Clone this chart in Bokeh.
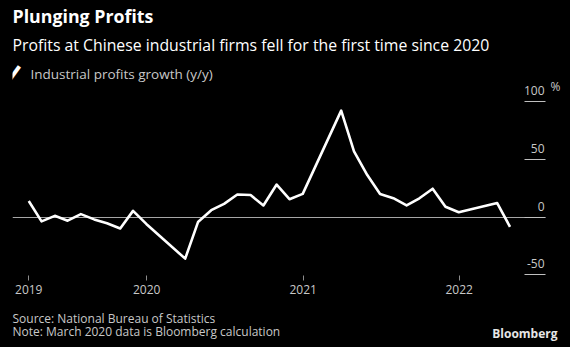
import pandas as pd
from bokeh.plotting import figure
from bokeh.layouts import column
from bokeh.models import (Range1d, FixedTicker, DatetimeTickFormatter, Label, LinearAxis,
                          CustomLabelingPolicy)
from bokeh.embed import file_html
from bokeh.resources import INLINE

# ---- data ----
months = ["2019-03", "2019-04", "2019-05", "2019-06", "2019-07", "2019-08",
          "2019-09", "2019-10", "2019-11", "2019-12",
          "2020-03", "2020-04", "2020-05", "2020-06", "2020-07", "2020-08",
          "2020-09", "2020-10", "2020-11", "2020-12",
          "2021-03", "2021-04", "2021-05", "2021-06", "2021-07", "2021-08",
          "2021-09", "2021-10", "2021-11", "2021-12",
          "2022-03", "2022-04"]
growth = [13.9, -3.7, 1.1, -3.1, 2.6, -2.0, -5.3, -9.9, 5.4, -5.9,
          -36.0, -4.3, 6.0, 11.5, 19.6, 19.1, 10.1, 28.2, 15.5, 20.1,
          92.3, 57.0, 36.4, 20.0, 16.4, 10.1, 16.3, 24.6, 9.0, 4.2,
          12.2, -8.5]
year_ticks = ["2019-03-31", "2020-01-01", "2021-01-01", "2022-01-01"]
y_ticks = [-50, 0, 50, 100]
y_tick_labels = ["-50", "0", "50", "100"]
y_unit = "%"

title_text = "Plunging Profits"
subtitle_text = "Profits at Chinese industrial firms fell for the first time since 2020"
legend_text = "Industrial profits growth (y/y)"
source_text = "Source: National Bureau of Statistics"
note_text = "Note: March 2020 data is Bloomberg calculation"
brand_text = "Bloomberg"

dates = pd.to_datetime(months) + pd.offsets.MonthEnd(0)


def ms(s):
    return pd.Timestamp(s).value / 1e6


x_start, x_end = "2019-02-21", "2022-07-22"
y_lo, y_hi = -50.6, 187.7

W = 570
MAIN_H = 303
FOOT_H = 347 - MAIN_H
FRAME_LEFT, FRAME_BOTTOM = 12, 275
FONT = "Open Sans"
LABEL_GRAY = "#c8c8c8"

p = figure(width=W, height=MAIN_H, x_axis_type="datetime", y_axis_location="right",
           x_range=Range1d(ms(x_start), ms(x_end)), y_range=Range1d(y_lo, y_hi),
           output_backend="svg", toolbar_location=None,
           min_border_left=FRAME_LEFT, min_border_right=25,
           min_border_top=0, min_border_bottom=MAIN_H - FRAME_BOTTOM,
           background_fill_color="black", border_fill_color="black")
p.outline_line_color = None
p.title.visible = False

# x axis
xa = p.xaxis[0]
xa.ticker = FixedTicker(ticks=[ms(t) for t in year_ticks])
xa.formatter = DatetimeTickFormatter(years="%Y", months="%Y", days="%Y", hours="%Y",
                                     hourmin="%Y", minutes="%Y", minsec="%Y",
                                     seconds="%Y", milliseconds="%Y", microseconds="%Y")
xa.axis_line_color = None
xa.major_tick_line_color = "#8c8c8c"
xa.major_tick_out = 5
xa.major_tick_in = 0
xa.minor_tick_line_color = None
xa.major_label_text_color = LABEL_GRAY
xa.major_label_text_font = FONT
xa.major_label_text_font_size = "12px"
xa.major_label_standoff = 4

# y axis (right): only the short inward dashes, its own labels are suppressed
ya = p.yaxis[0]
ya.ticker = FixedTicker(ticks=y_ticks)
ya.axis_line_color = None
ya.major_tick_in = 21
ya.major_tick_out = 0
ya.major_tick_line_color = "#bfbfbf"
ya.minor_tick_line_color = None
ya.major_label_text_font_size = "1px"
ya.major_label_standoff = 0
ya.major_label_policy = CustomLabelingPolicy(code="return new Set()")

# unit "%" beside the top label, via a second right axis on a range lifted by 15 px
lift = 15 / ((FRAME_BOTTOM - 0) / (y_hi - y_lo))
p.extra_y_ranges = {"unit": Range1d(y_lo - lift, y_hi - lift)}
ua = LinearAxis(y_range_name="unit", ticker=FixedTicker(ticks=[y_ticks[-1]]),
                major_label_overrides={y_ticks[-1]: y_unit})
ua.axis_line_color = None
ua.major_tick_in = 0
ua.major_tick_out = 0
ua.minor_tick_line_color = None
ua.major_label_standoff = 0
ua.major_label_text_color = LABEL_GRAY
ua.major_label_text_font = FONT
ua.major_label_text_font_size = "12px"
p.add_layout(ua, "right")

p.xgrid.visible = False
p.ygrid.ticker = FixedTicker(ticks=[0])
p.ygrid.grid_line_color = "#a6a6a6"
p.ygrid.grid_line_width = 1

p.line(x=dates, y=growth, line_color="white", line_width=2.6, line_join="round")

# y tick labels placed above the dashes
for v, lab in zip(y_ticks, y_tick_labels):
    p.add_layout(Label(x=ms(x_end), y=v, text=lab, text_align="right",
                       text_baseline="alphabetic", x_offset=-1, y_offset=11,
                       text_color=LABEL_GRAY, text_font=FONT, text_font_size="12px"))


def frame_label(text, cx, cy, left, bottom, **kw):
    opts = dict(text_baseline="middle", text_align="left", text_font=FONT,
                text_color=LABEL_GRAY, text_font_size="12px")
    opts.update(kw)
    return Label(x=cx - left, y=bottom - cy, x_units="screen", y_units="screen",
                 text=text, **opts)


p.add_layout(frame_label(title_text, 12, 15, FRAME_LEFT, FRAME_BOTTOM, text_color="white",
                         text_font_style="bold", text_font_size="17.8px"))
p.add_layout(frame_label(subtitle_text, 12, 44, FRAME_LEFT, FRAME_BOTTOM,
                         text_color="white", text_font_size="15.8px"))
p.add_layout(frame_label("\u258d", 17, 74, FRAME_LEFT, FRAME_BOTTOM, text_color="white",
                         text_align="center", text_font="DejaVu Sans",
                         text_font_size="13px", angle=-0.63))
p.add_layout(frame_label(legend_text, 30, 73, FRAME_LEFT, FRAME_BOTTOM,
                         text_font_size="13.5px"))

# footer strip
f = figure(width=W, height=FOOT_H, x_range=Range1d(0, 1), y_range=Range1d(0, 1),
           x_axis_location=None, y_axis_location=None, output_backend="svg",
           toolbar_location=None, min_border=0,
           background_fill_color="black", border_fill_color="black")
f.outline_line_color = None
f.title.visible = False
f.grid.visible = False
foot_left = FRAME_LEFT
if "frame_align" in f.properties():
    f.frame_align = False
    foot_left = 0
f.add_layout(frame_label(source_text, 12, 318 - MAIN_H, foot_left, FOOT_H))
f.add_layout(frame_label(note_text, 12, 331 - MAIN_H, foot_left, FOOT_H))
f.add_layout(frame_label(brand_text, 557, 333 - MAIN_H, foot_left, FOOT_H,
                         text_align="right", text_color="#e6e6e6",
                         text_font_style="bold", text_font_size="12px"))

layout = column(p, f, spacing=0, background="black")
open("out.html", "w").write(file_html(layout, INLINE))
